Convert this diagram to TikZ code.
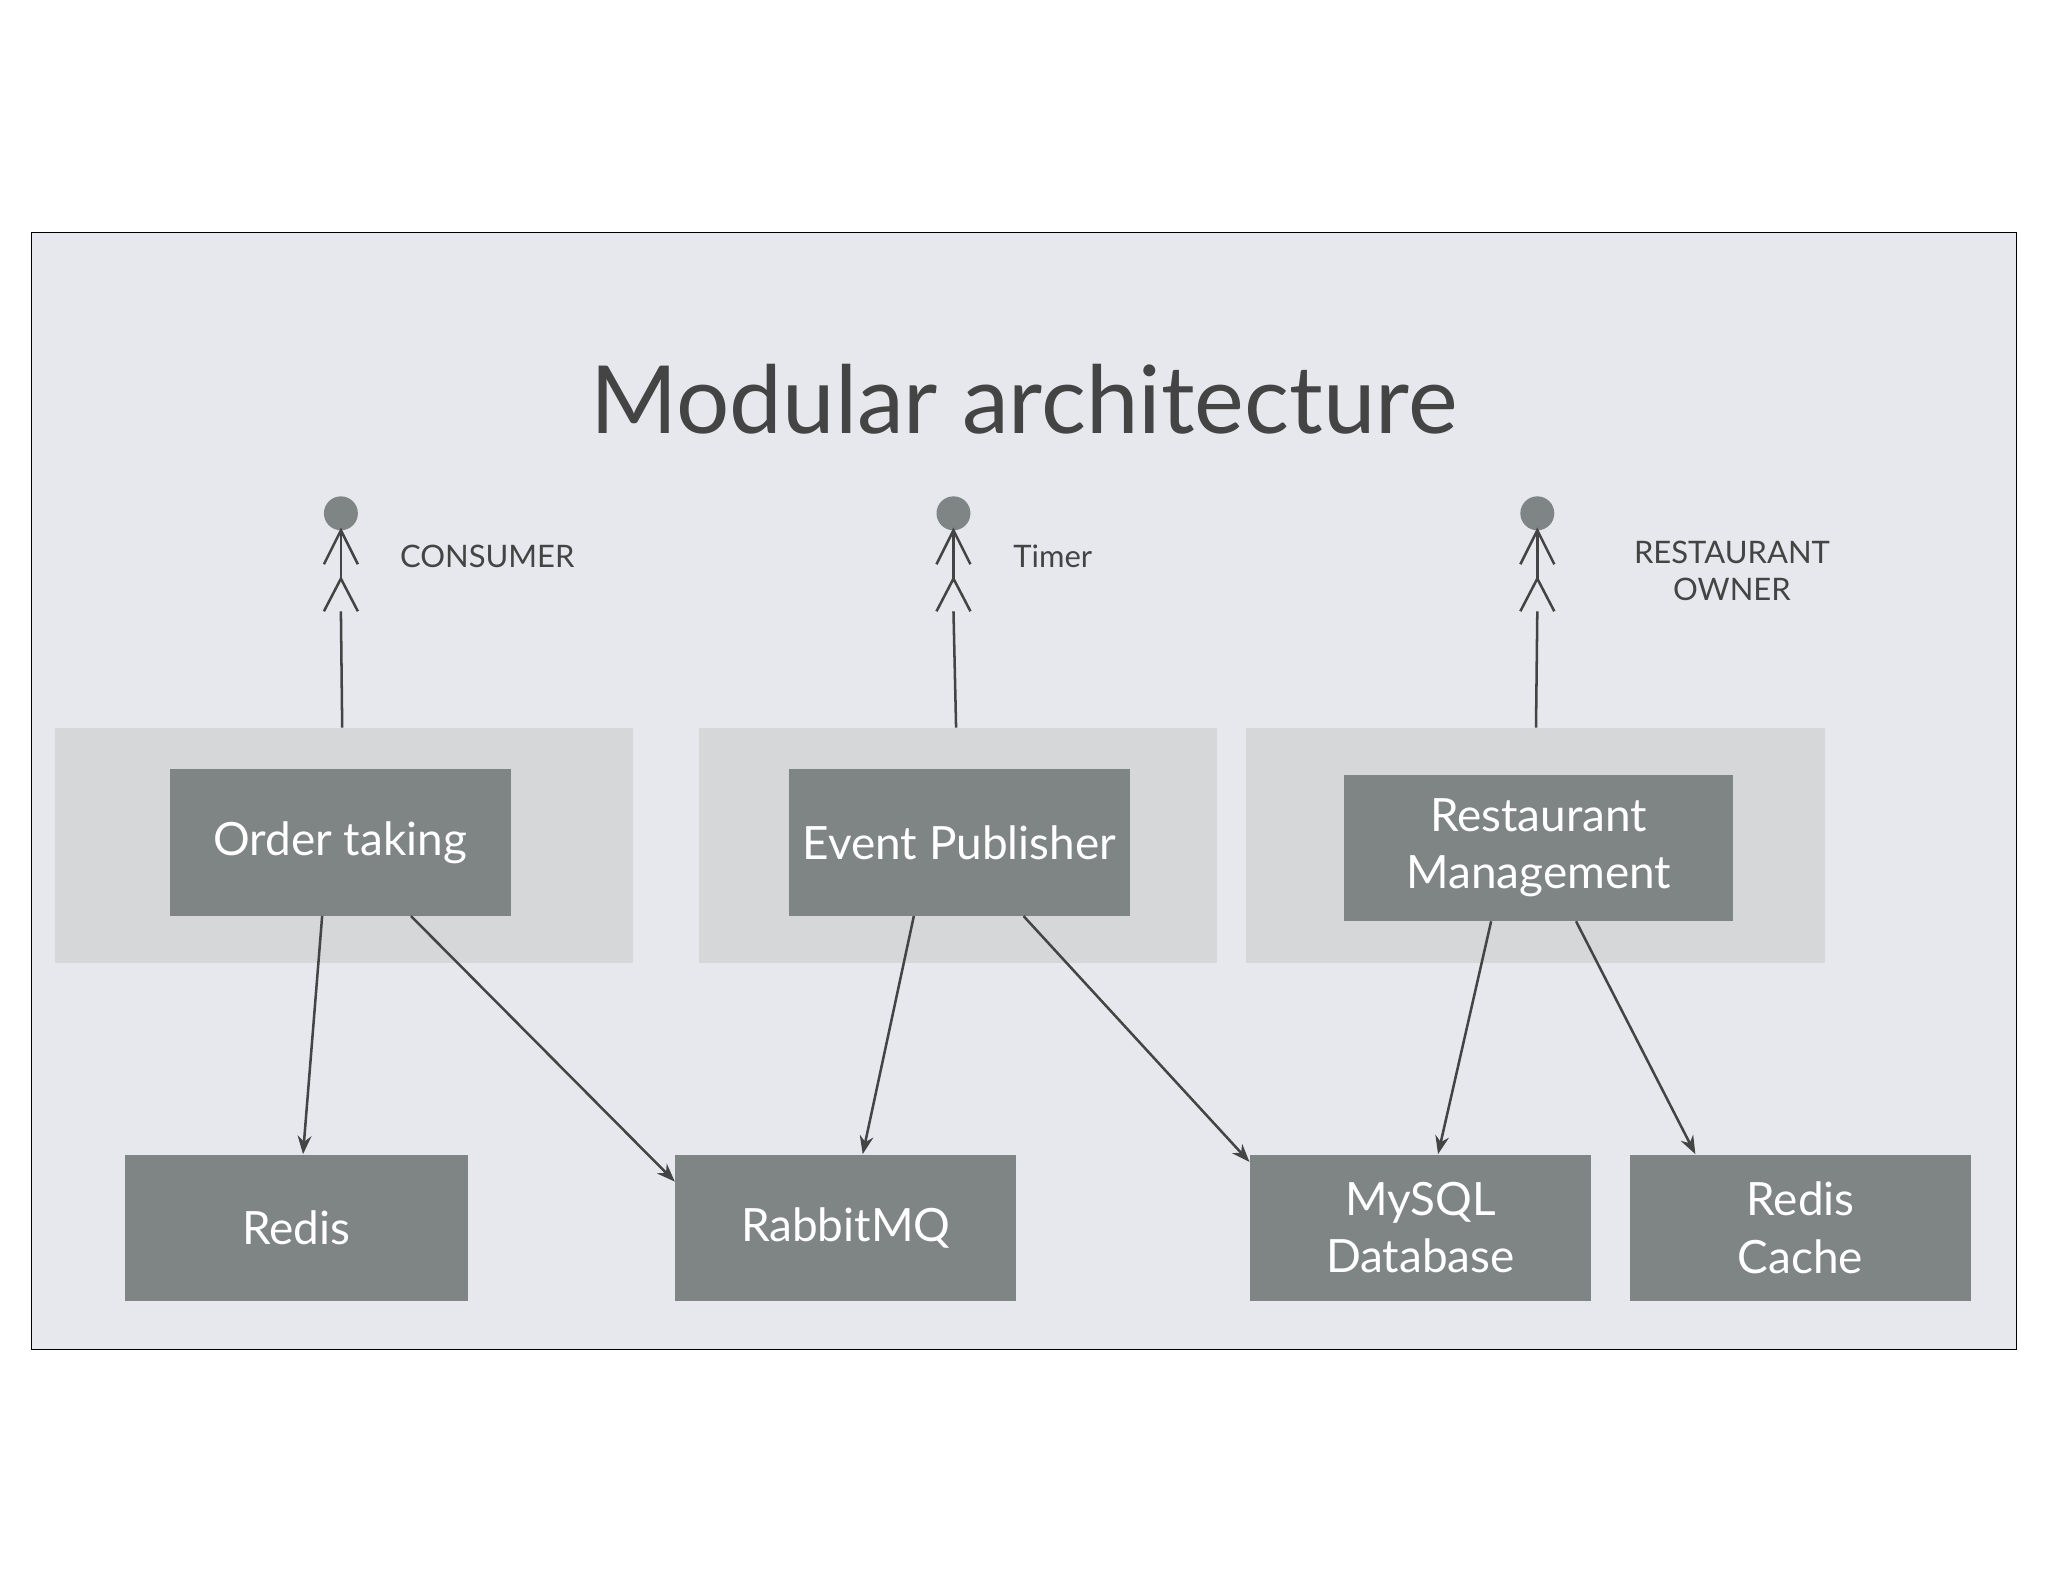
\documentclass[tikz,border=0pt]{standalone}
\usepackage{fontspec}
\setmainfont{Lato}
\usetikzlibrary{arrows.meta}
\definecolor{bgc}{HTML}{E7E8ED}
\definecolor{grp}{HTML}{D6D7D9}
\definecolor{box}{HTML}{7F8584}
\definecolor{ink}{HTML}{444444}
\begin{document}
\begin{tikzpicture}[x=0.02cm,y=-0.02cm,
  grp/.style={fill=grp,draw=none},
  bx/.style={fill=box,draw=none,text=white,font=\fontsize{20}{25}\selectfont,align=center,inner sep=0},
  lbl/.style={text=ink,font=\fontsize{13.5}{16}\selectfont,align=center},
  ar/.style={draw=ink,line width=1.1pt,-{Stealth[length=8pt,width=6pt]}},
  ln/.style={draw=ink,line width=1.1pt}]
\useasboundingbox (0,0) rectangle (1568,1211);
\fill[white] (0,0) rectangle (1568,1211);
\draw[fill=bgc,line width=0.6pt] (24,178) rectangle (1544,1033);
\node[text=ink,font=\fontsize{41}{46}\selectfont] (title) at (784,306) {Modular architecture};
\fill[grp] (42,557) rectangle (485,737);
\fill[grp] (535,557) rectangle (932,737);
\fill[grp] (954,557) rectangle (1397,737);
\coordinate (g1) at (262,557);
\coordinate (g2) at (732,557);
\coordinate (g3) at (1176,557);
\foreach \x/\n in {261/a1,730/a2,1177/a3}{
  \fill[box] (\x,393) circle (13);
  \draw[ln] (\x,406) -- (\x,443);
  \draw[ln] (\x-13,432) -- (\x,406) -- (\x+13,432);
  \draw[ln] (\x-13,468) -- (\x,443) -- (\x+13,468);
  \coordinate (\n) at (\x,468);
}
\draw[ln] (a1) -- (g1);
\draw[ln] (a2) -- (g2);
\draw[ln] (a3) -- (g3);
\node[lbl] (l1) at (373,426) {CONSUMER};
\node[lbl] (l2) at (806,426) {Timer};
\node[lbl] (l3) at (1326,437) {RESTAURANT\\OWNER};
\node[bx,minimum width=261*0.02cm,minimum height=112*0.02cm] (ot) at (260.5,645) {Order taking};
\node[bx,minimum width=261*0.02cm,minimum height=112*0.02cm] (ep) at (734.5,645) {Event Publisher};
\node[bx,minimum width=298*0.02cm,minimum height=112*0.02cm] (rm) at (1178,649) {Restaurant\\Management};
\node[bx,minimum width=262*0.02cm,minimum height=112*0.02cm] (rd) at (227,940) {Redis};
\node[bx,minimum width=261*0.02cm,minimum height=112*0.02cm] (mq) at (647.5,940) {RabbitMQ};
\node[bx,minimum width=261*0.02cm,minimum height=112*0.02cm] (my) at (1087.5,940) {MySQL\\Database};
\node[bx,minimum width=261*0.02cm,minimum height=112*0.02cm] (rc) at (1378.5,940) {Redis\\Cache};
\draw[ar] (ot.south west) ++(117,0) -- ([xshift=0.1cm]rd.north);
\draw[ar] (ot.south west) ++(185,0) -- ([yshift=-0.42cm]mq.north west);
\draw[ar] (ep.south west) ++(96,0) -- ([xshift=0.26cm]mq.north);
\draw[ar] (ep.south west) ++(180,0) -- ([yshift=-0.12cm]my.north west);
\draw[ar] (rm.south west) ++(113,0) -- ([xshift=0.27cm]my.north);
\draw[ar] (rm.south west) ++(178,0) -- ([xshift=-1.61cm]rc.north);
\end{tikzpicture}
\end{document}
